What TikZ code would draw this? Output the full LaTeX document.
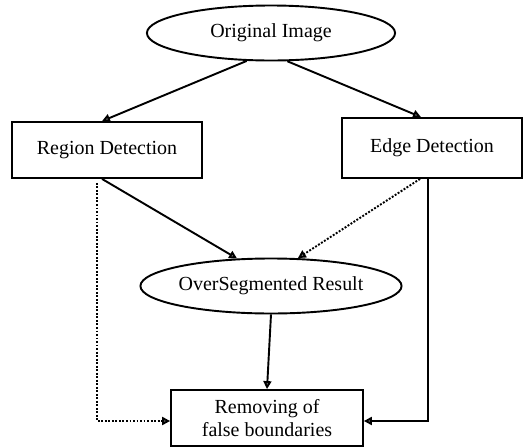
\documentclass[tikz,border=0pt]{standalone}
\usepackage{fontspec}
\setmainfont{Liberation Serif}
\usetikzlibrary{shapes.geometric,arrows.meta,calc}
\tikzset{
  stage/.style = {align=center, inner sep=0pt, text centered, font=\fontsize{12.5}{14.5}\selectfont},
  ellnode/.style = {stage, ellipse, draw=black, line width=1.2pt, minimum width=5.46cm, minimum height=1.21cm},
  boxnode/.style = {stage, rectangle, draw=black, line width=1.2pt, minimum height=1.23cm},
  flow/.style = {line width=1.2pt, -{Triangle[width=5pt,length=5pt,fill=gray]}},
  dflow/.style = {flow, densely dotted},
}

\begin{document}
\begin{tikzpicture}[x=0.022cm, y=-0.022cm]
  \useasboundingbox (0,0) rectangle (526,448);
  \node [ellnode] (orig) at (271,33) {Original Image};
  \node [boxnode, minimum width=4.18cm] (region) at (107,150) {Region Detection};
  \node [boxnode, minimum width=3.98cm, minimum height=1.32cm] (edge) at (432,148) {Edge Detection};
  \node [ellnode] (overseg) at (271,286) {OverSegmented Result};
  \node [boxnode, minimum width=4.22cm] (remove) at (267,418) {Removing of\\false boundaries};

  \draw [flow] (orig.229) -- ($(region.north)+(-5,0)$);
  \draw [flow] (orig.300) -- ($(edge.north)+(-11,0)$);
  \draw [flow] ($(region.south)+(-5,0)$) -- (overseg.141);
  \draw [dflow] ($(edge.south)+(-12,0)$) -- (overseg.46);
  \draw [flow] (overseg.south) -- (remove.north);
  \draw [dflow] ($(region.south)+(-10,4)$) |- ($(remove.west)+(0,3)$);
  \draw [flow] ($(edge.south)+(-4,0)$) |- ($(remove.east)+(0,3)$);
\end{tikzpicture}
\end{document}
